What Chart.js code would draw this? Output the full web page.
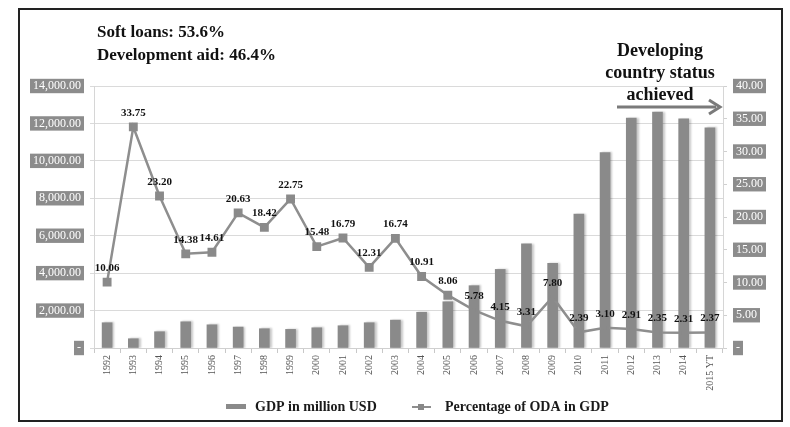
<!DOCTYPE html>
<html>
<head>
<meta charset="utf-8">
<script src="https://cdn.jsdelivr.net/npm/chart.js@4.4.1/dist/chart.umd.min.js"></script>
<style>
  html, body { margin: 0; padding: 0; background: #fff; }
  canvas { display: block; }
</style>
</head>
<body>
<canvas id="odaChart" width="790" height="427"></canvas>
<script>
// data
const years = ['1992', '1993', '1994', '1995', '1996', '1997', '1998', '1999', '2000', '2001', '2002', '2003',
    '2004', '2005', '2006', '2007', '2008', '2009', '2010', '2011', '2012', '2013', '2014', '2015 YT'];
const gdpMillionUsd = [1350, 495, 870, 1400, 1240, 1120, 1030, 995, 1080, 1190, 1350, 1490,
    1910, 2470, 3330, 4200, 5560, 4530, 7160, 10440, 12280, 12610, 12240, 11770];
const odaPercent = [10.06, 33.75, 23.20, 14.38, 14.61, 20.63, 18.42, 22.75, 15.48, 16.79, 12.31, 16.74,
    10.91, 8.06, 5.78, 4.15, 3.31, 7.80, 2.39, 3.10, 2.91, 2.35, 2.31, 2.37];
const leftTickLabels = ['-', '2,000.00', '4,000.00', '6,000.00', '8,000.00', '10,000.00', '12,000.00', '14,000.00'];
const rightTickLabels = ['-', '5.00', '10.00', '15.00', '20.00', '25.00', '30.00', '35.00', '40.00'];
const noteLines = ['Soft loans: 53.6%', 'Development aid: 46.4%'];
const statusLines = ['Developing', 'country status', 'achieved'];

const serif = 'Liberation Serif';
const barGray = '#8a8a8a';
const lineGray = '#8e8e8e';

const tickBackdrop = {
    showLabelBackdrop: true,
    backdropColor: '#8c8c8c',
    backdropPadding: { top: 0, bottom: 0, left: 3, right: 3 },
    color: '#ffffff',
    font: { family: serif, size: 12 },
    padding: 9
};

// shadow on the right side of the bars
const barShadow = {
    id: 'barShadow',
    beforeDatasetDraw(chart, args) {
        if (args.meta.type !== 'bar') return;
        const ctx = chart.ctx;
        ctx.save();
        ctx.shadowColor = 'rgba(0,0,0,0.22)';
        ctx.shadowOffsetX = 2;
        ctx.shadowOffsetY = 0;
        ctx.shadowBlur = 2;
    },
    afterDatasetDraw(chart, args) {
        if (args.meta.type !== 'bar') return;
        chart.ctx.restore();
    }
};

// value labels over the line points, notes, arrow, legend and frame
const extras = {
    id: 'extras',
    afterDatasetsDraw(chart) {
        const ctx = chart.ctx;
        const meta = chart.getDatasetMeta(1);
        ctx.save();
        ctx.fillStyle = '#111';
        ctx.font = 'bold 11px "' + serif + '"';
        ctx.textAlign = 'center';
        ctx.textBaseline = 'middle';
        meta.data.forEach((pt, i) => {
            ctx.fillText(odaPercent[i].toFixed(2), pt.x, pt.y - 14);
        });
        ctx.restore();
    },
    afterDraw(chart) {
        const ctx = chart.ctx;
        ctx.save();

        // frame
        ctx.strokeStyle = '#222';
        ctx.lineWidth = 2;
        ctx.strokeRect(19, 9, 763, 412);

        // notes top left
        ctx.fillStyle = '#111';
        ctx.font = 'bold 17px "' + serif + '"';
        ctx.textAlign = 'left';
        ctx.textBaseline = 'alphabetic';
        noteLines.forEach((t, i) => ctx.fillText(t, 97, 37 + i * 23));

        // status note top right
        ctx.font = 'bold 18px "' + serif + '"';
        ctx.textAlign = 'center';
        statusLines.forEach((t, i) => ctx.fillText(t, 660, 56 + i * 22));

        // arrow
        const ay = 107;
        ctx.strokeStyle = '#7a7a7a';
        ctx.lineWidth = 3;
        ctx.beginPath();
        ctx.moveTo(617, ay);
        ctx.lineTo(716, ay);
        ctx.stroke();
        ctx.beginPath();
        ctx.moveTo(709, ay - 7);
        ctx.lineTo(720, ay);
        ctx.lineTo(709, ay + 7);
        ctx.stroke();

        // legend
        const ly = 407;
        ctx.fillStyle = barGray;
        ctx.fillRect(226, ly - 3, 20, 5);
        ctx.strokeStyle = lineGray;
        ctx.lineWidth = 2;
        ctx.beginPath();
        ctx.moveTo(412, ly);
        ctx.lineTo(431, ly);
        ctx.stroke();
        ctx.fillStyle = '#888';
        ctx.fillRect(418, ly - 3, 6, 6);
        ctx.fillStyle = '#1a1a1a';
        ctx.font = 'bold 14px "' + serif + '"';
        ctx.textAlign = 'left';
        ctx.textBaseline = 'middle';
        ctx.fillText(chart.data.datasets[0].label, 255, ly);
        ctx.fillText(chart.data.datasets[1].label, 445, ly);

        ctx.restore();
    }
};

const ctx = document.getElementById('odaChart').getContext('2d');

new Chart(ctx, {
    type: 'bar',
    data: {
        labels: years,
        datasets: [{
            type: 'bar',
            label: 'GDP in million USD',
            data: gdpMillionUsd,
            backgroundColor: barGray,
            borderWidth: 0,
            barThickness: 10,
            yAxisID: 'y',
            order: 2
        }, {
            type: 'line',
            label: 'Percentage of ODA in GDP',
            data: odaPercent,
            borderColor: lineGray,
            borderWidth: 2.5,
            pointStyle: 'rect',
            pointRadius: 4.5,
            pointBackgroundColor: '#8a8a8a',
            pointBorderColor: '#8a8a8a',
            tension: 0,
            yAxisID: 'y2',
            order: 1
        }]
    },
    options: {
        responsive: false,
        animation: false,
        layout: { padding: { left: 20, right: 10, top: 86, bottom: 29 } },
        scales: {
            x: {
                offset: true,
                grid: { offset: true, drawOnChartArea: false, tickLength: 5, color: '#c8c8c8' },
                border: { color: '#d0d0d0' },
                ticks: {
                    minRotation: 90,
                    maxRotation: 90,
                    autoSkip: false,
                    color: '#555',
                    font: { family: serif, size: 10 },
                    padding: 2
                },
                afterFit(scale) { scale.height = 50; }
            },
            y: {
                position: 'left',
                min: 0,
                max: 14000,
                grid: { color: '#dadada', tickLength: 4 },
                border: { color: '#d6d6d6' },
                ticks: Object.assign({}, tickBackdrop, {
                    stepSize: 2000,
                    callback: (v, i) => leftTickLabels[i]
                }),
                afterFit(scale) { scale.width = 74; }
            },
            y2: {
                position: 'right',
                min: 0,
                max: 40,
                grid: { drawOnChartArea: false, tickLength: 4, color: '#d0d0d0' },
                border: { color: '#d6d6d6' },
                ticks: Object.assign({}, tickBackdrop, {
                    stepSize: 5,
                    callback: (v, i) => rightTickLabels[i]
                }),
                afterFit(scale) { scale.width = 57; }
            }
        },
        plugins: {
            legend: { display: false },
            tooltip: { enabled: false }
        }
    },
    plugins: [barShadow, extras]
});
</script>
</body>
</html>
